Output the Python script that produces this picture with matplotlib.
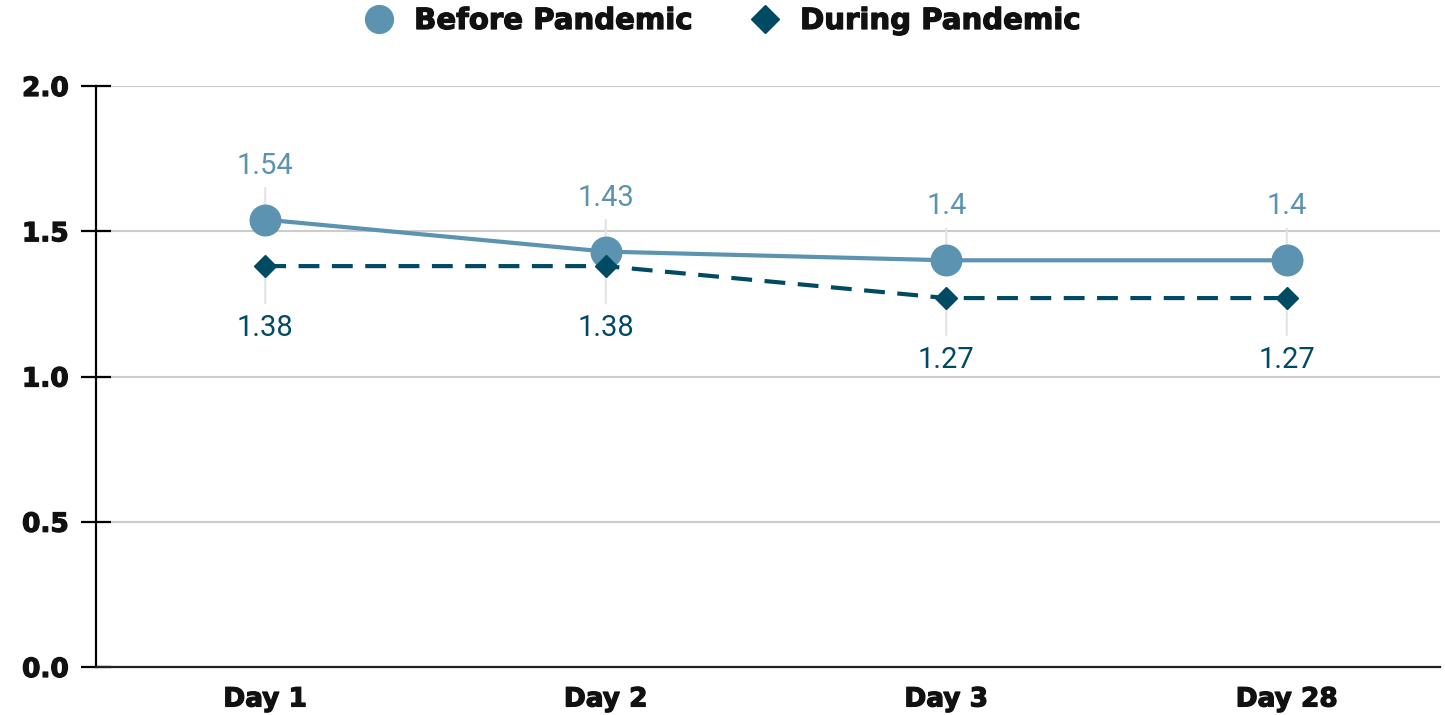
import matplotlib
matplotlib.use("Agg")
import matplotlib.pyplot as plt
import matplotlib.patheffects as pe
from matplotlib.lines import Line2D

days = ['Day 1', 'Day 2', 'Day 3', 'Day 28']
before = [1.54, 1.43, 1.40, 1.40]
during = [1.38, 1.38, 1.27, 1.27]
y_ticks = [0.0, 0.5, 1.0, 1.5, 2.0]

c_before = '#5b93b0'
c_during = '#004a64'

# heavy look close to Arial Black
heavy = [pe.withStroke(linewidth=0.9, foreground='#111111')]

fig = plt.figure(figsize=(14.45, 7.15), dpi=100)
ax = fig.add_axes([96 / 1445, 1 - 667 / 715, (1440 - 96) / 1445, (667 - 86) / 715])

x = list(range(len(days)))
ax.plot(x, before, color=c_before, lw=3, marker='o', ms=22, zorder=4)
ax.plot(x, during, color=c_during, lw=3, dashes=(5, 3), marker='D', ms=11.5,
        zorder=5)

# value labels with faint leader lines
for i in x:
    ax.annotate('{:g}'.format(before[i]), xy=(i, before[i]), xytext=(0, 54),
                textcoords='offset pixels', ha='center', va='center',
                fontsize=21, family='Roboto', color=c_before,
                arrowprops=dict(arrowstyle='-', color='#e3e3e3', lw=1.5,
                                shrinkA=4, shrinkB=0), zorder=2)
    ax.annotate('{:g}'.format(during[i]), xy=(i, during[i]), xytext=(0, -62),
                textcoords='offset pixels', ha='center', va='center',
                fontsize=21, family='Roboto', color=c_during,
                arrowprops=dict(arrowstyle='-', color='#e3e3e3', lw=1.5,
                                shrinkA=6, shrinkB=0), zorder=2)

ax.set_xlim(-0.497, 3.45)
ax.set_ylim(0, 2.0)
ax.set_xticks(x)
ax.set_xticklabels(days)
ax.set_yticks(y_ticks)
ax.set_yticklabels(['{:.1f}'.format(v) for v in y_ticks])

ax.grid(axis='y', color='#cccccc', lw=1.5, zorder=0)
ax.set_axisbelow(True)
for s in ['top', 'right']:
    ax.spines[s].set_visible(False)
ax.spines['left'].set_linewidth(1.6)
ax.spines['bottom'].set_linewidth(1.6)
ax.spines['bottom'].set_color('#222222')

ax.tick_params(axis='y', direction='inout', length=21, width=1.6, pad=9)
ax.tick_params(axis='x', length=0, pad=14)
for lab in ax.get_xticklabels() + ax.get_yticklabels():
    lab.set_fontweight('heavy')
    lab.set_fontsize(19)
    lab.set_family('DejaVu Sans')
    lab.set_color('#111111')
    lab.set_path_effects(heavy)

handles = [
    Line2D([], [], ls='none', marker='o', ms=20, color=c_before),
    Line2D([], [], ls='none', marker='D', ms=14, color=c_during),
]
leg = fig.legend(handles, ['Before Pandemic', 'During Pandemic'],
                 loc='center', bbox_to_anchor=(0.5, 1 - 21 / 715), ncol=2,
                 frameon=False,
                 prop={'family': 'DejaVu Sans', 'weight': 'heavy', 'size': 21},
                 handlelength=1.0, columnspacing=2.0, handletextpad=0.7)
for t in leg.get_texts():
    t.set_color('#111111')
    t.set_path_effects(heavy)

fig.savefig('out.png', dpi=100)
